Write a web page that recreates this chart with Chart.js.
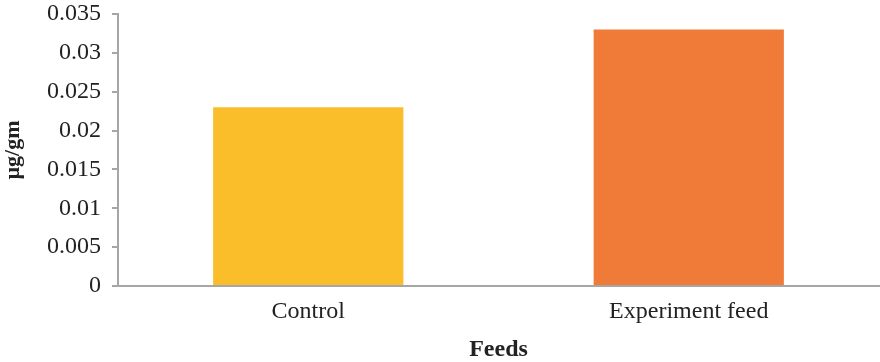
<!DOCTYPE html>
<html>
<head>
<meta charset="utf-8">
<script src="https://cdn.jsdelivr.net/npm/chart.js@4/dist/chart.umd.min.js"></script>
<style>
  html, body { margin: 0; padding: 0; background: #ffffff; }
  #wrap { width: 880px; height: 362px; }
</style>
</head>
<body>
<div id="wrap"><canvas id="c" width="880" height="362"></canvas></div>
<script>
// Feed types and measured concentration (µg/gm)
const categories = ['Control', 'Experiment feed'];
const values = [0.023, 0.033];
const barColors = ['#F9BE2A', '#F07A38'];
const yTicks = [0, 0.005, 0.01, 0.015, 0.02, 0.025, 0.03, 0.035];

const serif = '"Liberation Serif", "Times New Roman", serif';
const axisGray = '#A6A6A6';

new Chart(document.getElementById('c'), {
  type: 'bar',
  data: {
    labels: categories,
    datasets: [{
      data: values,
      backgroundColor: barColors,
      borderWidth: 0,
      categoryPercentage: 1.0,
      barPercentage: 0.5
    }]
  },
  options: {
    responsive: false,
    animation: false,
    layout: { padding: { top: 14, right: 1, left: 0, bottom: 0 } },
    plugins: { legend: { display: false }, tooltip: { enabled: false } },
    scales: {
      x: {
        grid: { display: false, drawTicks: false },
        border: { display: true, color: axisGray, width: 2 },
        ticks: { color: '#222', font: { family: serif, size: 24 }, padding: 11 },
        title: {
          display: true, text: 'Feeds', color: '#222',
          font: { family: serif, size: 24, weight: 'bold' },
          padding: { top: 10, bottom: -2 }
        },
        afterFit: (s) => { s.height = 76; s.paddingLeft = 0; s.paddingRight = 0; }
      },
      y: {
        min: 0, max: 0.035,
        afterBuildTicks: (s) => { s.ticks = yTicks.map(v => ({ value: v })); },
        grid: { drawOnChartArea: false, drawTicks: true, tickLength: 6, color: axisGray, lineWidth: 2 },
        border: { display: true, color: axisGray, width: 2 },
        ticks: {
          color: '#222', font: { family: serif, size: 24 }, padding: 11,
          callback: (v) => String(v)
        },
        title: {
          display: true, text: 'µg/gm', color: '#222',
          font: { family: serif, size: 22, weight: 'bold' },
          padding: { top: 0, bottom: 2 }
        },
        afterFit: (s) => { s.width = 118; s.paddingTop = 0; s.paddingBottom = 0; }
      }
    }
  }
});
</script>
</body>
</html>
